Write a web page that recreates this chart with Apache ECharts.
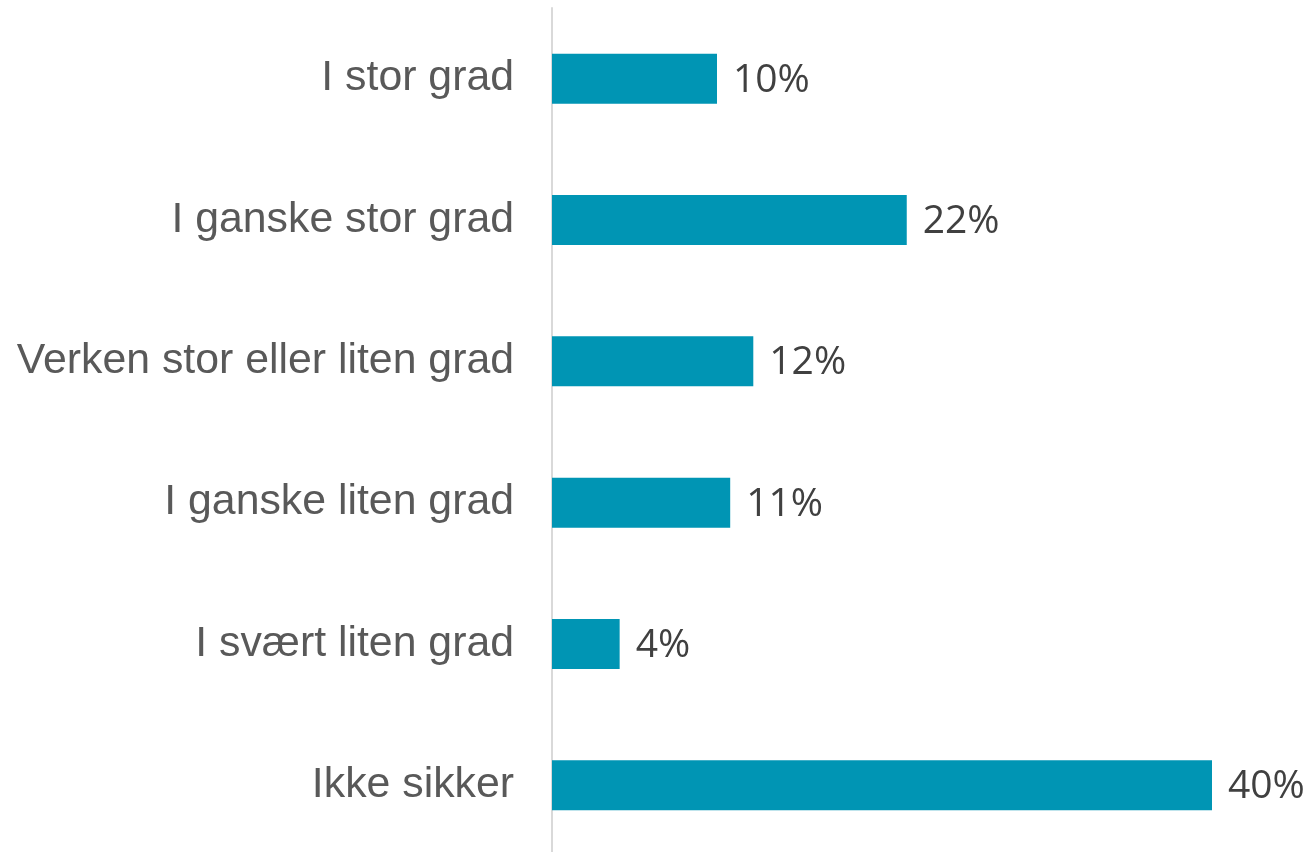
<!DOCTYPE html>
<html>
<head>
<meta charset="utf-8">
<script src="https://cdn.jsdelivr.net/npm/echarts@6/dist/echarts.min.js"></script>
<style>
  html, body { margin: 0; padding: 0; background: #fff; }
  #chart { width: 1309px; height: 852px; }
</style>
</head>
<body>
<div id="chart"></div>
<script>
// answer categories, top to bottom
var categories = ['I stor grad', 'I ganske stor grad', 'Verken stor eller liten grad',
                  'I ganske liten grad', 'I svært liten grad', 'Ikke sikker'];
// share in percent
var shares = [10.0, 21.5, 12.2, 10.8, 4.1, 40.0];

var chart = echarts.init(document.getElementById('chart'));
var option = {
    animation: false,
    grid: {
        left: 552,
        right: 97,
        top: 8,
        height: 848,
        outerBoundsMode: 'none'
    },
    xAxis: {
        type: 'value',
        min: 0,
        max: 40,
        show: false
    },
    yAxis: {
        type: 'category',
        inverse: true,
        data: categories,
        axisTick: { show: false },
        axisLine: {
            show: true,
            lineStyle: { color: '#d9d9d9', width: 2 }
        },
        axisLabel: {
            margin: 38,
            fontFamily: 'Liberation Sans, Arial',
            fontSize: 42.8,
            color: '#595959'
        }
    },
    series: [
        {
            type: 'bar',
            data: shares,
            barWidth: 50,
            itemStyle: { color: '#0095b4' },
            label: {
                show: true,
                position: 'right',
                distance: 16,
                offset: [0, 2],
                fontFamily: 'Open Sans',
                fontSize: 39,
                color: '#404040',
                formatter: function (p) { return Math.round(p.value) + '%'; }
            }
        }
    ]
};
chart.setOption(option);
</script>
</body>
</html>
